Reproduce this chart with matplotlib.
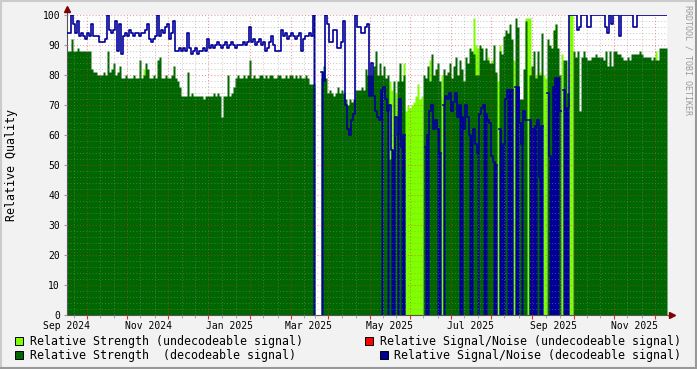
import matplotlib
matplotlib.use("Agg")
import matplotlib.pyplot as plt
import matplotlib.dates as mdates
from matplotlib.patches import Rectangle
from matplotlib.lines import Line2D
from matplotlib.ticker import MultipleLocator
import numpy as np
import pandas as pd

plt.rcParams["font.family"] = ["DejaVu Sans Mono"]

# one value per 36h step, starting 1 Sep 2024 (300 steps)
start = "2024-09-01"
step = "36h"

# Relative Strength (decodeable signal), 0 = no value
strength_dec = [
    88, 88, 92, 88, 88, 89, 88, 88, 88, 88, 88, 88,
    82, 81,
    81, 80, 80, 80, 81, 80, 88, 81, 82, 84, 80, 81, 83,
    79, 79, 80, 79, 79, 79, 80, 79, 79, 85, 79, 80, 84, 82, 79, 79, 80, 79, 85, 86, 79, 79, 80, 79, 79, 80, 83, 79, 78,
    76, 73, 73, 73, 81, 73, 74, 73, 73, 73, 73, 73, 72, 73, 73, 73, 73, 74, 73, 74, 73, 66, 73, 73, 80, 73, 74, 76, 79,
    80, 79, 79, 80, 79, 80, 85, 79, 80, 79, 79, 80, 80, 79, 80, 79, 80, 80, 79, 79, 80, 80, 79, 79,
    80, 79, 80, 80, 79, 80, 79, 80, 79, 79, 80, 79,
    77, 77, 77,
    0, 0, 0,
    79, 83, 79,
    74, 75, 74, 73, 74, 76, 74, 75, 74,
    72, 70, 72, 71, 72,
    75, 75, 75, 76, 75, 82,
    80, 80, 80,
    83, 88, 80, 84,
    80, 83, 79, 80, 52, 55, 78, 60, 78, 84, 78, 80,
    0, 0, 0, 0, 0, 0, 0, 0, 0,
    80, 79, 83, 78, 87, 80, 82, 84, 78,
    0,
    82, 80, 81, 84, 79, 83, 86, 80, 85, 82, 78, 86, 84, 89, 88, 87, 80,
    80, 90,
    89, 85, 89, 85, 84, 84, 90, 81,
    0,
    88, 87, 93, 95, 94, 97, 92,
    0,
    99, 96, 72, 72, 82, 98,
    0,
    80, 83, 88, 79, 88, 80, 94,
    0, 0,
    92, 90, 89, 95, 97, 89, 80,
    0,
    85, 85, 74,
    0, 0,
    88, 86, 88, 68, 86, 88, 86, 85, 85, 86, 86, 87, 86, 86, 86, 85, 88, 83, 88, 83, 88, 88, 87, 87,
    86, 85, 85, 86, 85, 87, 87, 87, 87, 88, 87, 86, 86, 86, 86, 85, 86, 85, 85, 89, 89, 89, 89,
]

# Relative Strength (undecodeable signal): step index -> value
undec_steps = [38, 161, 162, 164, 165, 166, 168, 169, 170, 171, 172, 173, 174, 175, 176, 177,
               181, 183, 184, 186, 187, 188, 195, 196, 197, 203, 204, 205, 210, 212, 214, 215,
               216, 221, 222, 223, 229, 230, 231, 234, 236, 238, 239, 243, 244, 247, 251, 252, 294]
undec_vals = [82, 78, 75, 74, 68, 80, 84, 68, 70, 69, 70, 71, 73, 77, 72, 73,
              85, 74, 76, 73, 80, 72, 75, 80, 73, 99, 90, 89, 86, 85, 80, 78,
              90, 85, 85, 85, 99, 99, 99, 80, 81, 80, 79, 95, 97, 87, 100, 100, 88]

nan = np.nan
# Relative Signal/Noise (decodeable signal)
snr_dec = [
    94, 94, 100, 97, 94, 98, 93, 94, 93, 92, 94, 93,
    97, 93, 93, 93, 91, 91, 91, 92, 100, 95, 94, 95,
    98, 88, 97, 87, 93, 94, 93, 95, 94, 93, 94, 94, 93, 94,
    94, 95, 97, 92, 91, 92, 93, 100, 93, 95, 94, 96,
    97, 92, 94, 98, 88, 88, 89, 88, 89, 88, 94,
    89, 87, 88, 89, 87, 88, 88, 89, 88, 92,
    89, 90, 89, 90, 91, 90, 89, 90, 91, 89, 90, 91, 90, 89, 90, 90,
    90, 91, 90, 91, 96, 91, 92, 90, 91, 92, 90, 91,
    88, 89, 91, 93, 90, 88, 88, 88,
    95, 93, 94, 92, 93, 94, 93, 92, 93, 94, 88, 92, 93, 93, 94, 93,
    100,
    nan, nan, nan,
    81, 78, 100, 97, 91, 91, 95, 95, 89, 89, 91, 98,
    70, 62, 60, 65, 67,
    100, 96, 96, 94, 94, 96, 97, 73, 84, 73, 68, 66, 65,
    75, 76, 72, 68, 70, 55, 52, 66, 60, 72, 56, 60,
    nan, nan, nan, nan, nan, nan, nan, nan, nan, nan,
    56, 60, 68, 70, 62, 65, 62, 54,
    nan,
    70, 73, 72, 74, 68, 71, 74, 66, 70, 66, 62, 70, 66, 60, 58, 62, 57, 54, 67,
    69, 70, 67, 65, 64, 53, 51, 50,
    nan,
    62, 48, 57, 72, 75, 75, 75,
    nan,
    76, 76, 64, 57, 68, 65,
    nan,
    65, 62, 62, 63, 65, 46, 63,
    nan, nan,
    74, 53, 51, 76, 79, 79, 68,
    nan,
    75, 69, 69,
    100, 100, 100, 100, 95, 96, 100, 100, 100, 96, 96, 100, 100, 100, 100, 100, 100, 100, 96, 94,
    100, 97, 100, 100, 100, 93, 100, 100, 100, 100, 100, 100, 96, 96, 100, 100, 100, 100, 100, 100,
    100, 100, 100, 100, 100, 100, 100, 100, 100,
]

# steps where the S/N trace runs down to the floor
snr_solid = [123, 127, 157, 160, 162, 163, 165, 167, 168, 179, 180, 185, 186, 188, 196, 197,
             201, 202, 205, 208, 209, 213, 214, 216, 217, 218, 220, 221, 222, 224, 225, 227,
             231, 232, 233, 234, 236, 237, 241, 242, 243, 244, 245, 248, 249, 250]

label_dates = ["2024-09-01", "2024-11-01", "2025-01-01", "2025-03-01",
               "2025-05-01", "2025-07-01", "2025-09-01", "2025-11-01"]
label_texts = ["Sep 2024", "Nov 2024", "Jan 2025", "Mar 2025",
               "May 2025", "Jul 2025", "Sep 2025", "Nov 2025"]

c_light = "#80FF00"
c_dark = "#006600"
c_red = "#FF0000"
c_blue = "#000099"

n = len(strength_dec)
edges = mdates.date2num(pd.date_range(start, periods=n + 1, freq=step))

dec = np.array(strength_dec, dtype=float)
undec = np.zeros(n)
undec[undec_steps] = undec_vals
snr = np.array(snr_dec, dtype=float)
solid = np.zeros(n)
solid[snr_solid] = snr[snr_solid]


def ext(v):
    return np.append(v, v[-1])


W, H = 697, 369
fig = plt.figure(figsize=(W / 100, H / 100), dpi=100, facecolor="#F2F2F2")
ax = fig.add_axes([67 / W, 54 / H, 600 / W, 300 / H])
ax.set_facecolor("white")

ax.fill_between(edges, 0, ext(undec), step="post", color=c_light, lw=0, zorder=1)
ax.fill_between(edges, 0, ext(dec), step="post", color=c_dark, lw=0, zorder=2)
ax.fill_between(edges, 0, ext(solid), step="post", color=c_blue, lw=0, zorder=2.2)
ax.step(edges, ext(snr), where="post", color=c_blue, lw=1.2, zorder=4)

ax.set_xlim(edges[0], edges[-1])
ax.set_ylim(0, 100)

ax.xaxis.set_major_locator(mdates.MonthLocator(bymonthday=16))
ax.xaxis.set_minor_locator(mdates.MonthLocator(bymonthday=[6, 26]))
ax.yaxis.set_major_locator(MultipleLocator(10))
ax.yaxis.set_minor_locator(MultipleLocator(2))
ax.set_axisbelow(False)
ax.grid(which="major", color="#DE3030", alpha=0.5, lw=0.75, ls=(0, (1, 2)))
ax.grid(which="minor", color="#8F8F8F", alpha=0.45, lw=0.75, ls=(0, (1, 2)))

ax.tick_params(axis="x", which="major", length=3, color="#DE3030", labelbottom=False)
ax.tick_params(axis="x", which="minor", length=2, color="#999999")
ax.tick_params(axis="y", which="major", length=2, color="#999999", labelsize=7, pad=3)
ax.tick_params(axis="y", which="minor", length=0)

for s in ["top", "right"]:
    ax.spines[s].set_visible(False)
for s in ["left", "bottom"]:
    ax.spines[s].set_color("#555555")
    ax.spines[s].set_linewidth(0.8)

sec = ax.secondary_xaxis("bottom")
sec.set_xticks(mdates.date2num(pd.to_datetime(label_dates)), labels=label_texts)
sec.tick_params(length=0, labelsize=7, pad=4)
sec.spines["bottom"].set_visible(False)

# axis arrows
ax.plot([0, 0], [1, 1.02], color="#555555", lw=0.8, transform=ax.transAxes, clip_on=False)
ax.plot([0], [1.02], marker="^", ms=4, color="#7F0000", transform=ax.transAxes, clip_on=False)
ax.plot([1, 1.008], [0, 0], color="#555555", lw=0.8, transform=ax.transAxes, clip_on=False)
ax.plot([1.008], [0], marker=">", ms=4, color="#7F0000", transform=ax.transAxes, clip_on=False)

fig.text(12 / W, 1 - 165 / H, "Relative Quality", rotation=90, ha="center", va="center", fontsize=8.4)
fig.text(688 / W, 1 - 60 / H, "RRDTOOL / TOBI OETIKER", rotation=270, ha="center", va="center",
         fontsize=6, color="#9A9A9A")

# legend
rows = [341, 355]
left_items = [("Relative Strength (undecodeable signal)", c_light),
              ("Relative Strength  (decodeable signal)", c_dark)]
right_items = [("Relative Signal/Noise (undecodeable signal)", c_red, 365),
               ("Relative Signal/Noise (decodeable signal)", c_blue, 380)]
for (txt, col), y in zip(left_items, rows):
    fig.add_artist(Rectangle((15 / W, 1 - (y + 4) / H), 8 / W, 8 / H, transform=fig.transFigure,
                             facecolor=col, edgecolor="black", lw=0.7))
    fig.text(30 / W, 1 - y / H, txt, ha="left", va="center", fontsize=8.4)
for (txt, col, sx), y in zip(right_items, rows):
    fig.add_artist(Rectangle((sx / W, 1 - (y + 4) / H), 8 / W, 8 / H, transform=fig.transFigure,
                             facecolor=col, edgecolor="black", lw=0.7))
    fig.text(681 / W, 1 - y / H, txt, ha="right", va="center", fontsize=8.4)

# frame shading
fig.add_artist(Line2D([0, 1], [1 - 0.5 / H] * 2, color="#CBCBCB", lw=1.5))
fig.add_artist(Line2D([0.5 / W] * 2, [0, 1], color="#CBCBCB", lw=1.5))
fig.add_artist(Line2D([0, 1], [0.8 / H] * 2, color="#999999", lw=1.5))
fig.add_artist(Line2D([1 - 0.8 / W] * 2, [0, 1], color="#999999", lw=1.5))

fig.savefig("out.png", dpi=100, facecolor=fig.get_facecolor())
